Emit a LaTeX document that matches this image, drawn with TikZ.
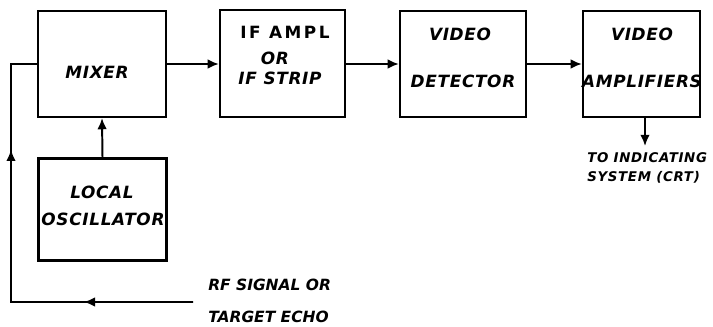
\documentclass[tikz,border=0pt]{standalone}
\usepackage{fontspec}
\setmainfont{DejaVu Sans}
\usepackage{tikz}
\usetikzlibrary{calc,arrows.meta}
\tikzset{block/.style={draw,line width=1.5pt,inner sep=0pt},
  block label/.style={inner sep=0pt,font=\bfseries\itshape\fontsize{12}{14}\selectfont\addfontfeature{LetterSpace=4}},
  upright label/.style={inner sep=0pt,font=\bfseries\fontsize{12}{14}\selectfont\addfontfeature{LetterSpace=15}},
  small label/.style={inner sep=0pt,align=left,font=\bfseries\itshape\fontsize{9.5}{13.5}\selectfont\addfontfeature{LetterSpace=5}},
  echo label/.style={inner sep=0pt,align=left,font=\bfseries\itshape\fontsize{11}{22.7}\selectfont},
  signal/.style={line width=1.4pt},flow/.style={-{Latex[length=2.8mm,width=2.4mm]}}}

\begin{document}
\begin{tikzpicture}[x=0.025cm,y=-0.025cm]
				\useasboundingbox (0,0) rectangle (713,327);
				% blocks
				\node[block,minimum width=3.2cm,minimum height=2.65cm] (mixer) at (102,64) {};
				\node[block,minimum width=3.125cm,minimum height=2.675cm] (ifamp) at (282.5,63.5) {};
				\node[block,minimum width=3.15cm,minimum height=2.65cm] (detector) at (463,64) {};
				\node[block,minimum width=2.925cm,minimum height=2.65cm] (vamp) at (641.5,64) {};
				\node[block,minimum width=3.2cm,minimum height=2.55cm] (lo) at (102.5,209.5) {};
				% block texts
				\node[block label] (mixer text) at (97,72) {MIXER};
				\node[upright label] (ifamp text) at (285,32) {IF AMPL};
				\node[block label] (or text) at (275,58) {OR};
				\node[block label] (strip text) at (280,78) {IF STRIP};
				\node[block label] (video text) at (460,34) {VIDEO};
				\node[block label] (detector text) at (463,81) {DETECTOR};
				\node[block label] (video2 text) at (642,34) {VIDEO};
				\node[block label] (vamp text) at (642,81) {AMPLIFIERS};
				\node[block label] (local text) at (102,192) {LOCAL};
				\node[block label] (osc text) at (103,219) {OSCILLATOR};
				% chain
				\draw[signal,flow] (mixer.east) -- (ifamp.west |- mixer.east);
				\draw[signal,flow] (ifamp.east |- mixer.east) -- (detector.west |- mixer.east);
				\draw[signal,flow] (detector.east) -- (vamp.west);
				\draw[signal,flow] (lo.north) -- (mixer.south);
				\coordinate (crt) at (645,146);
				\draw[signal,flow] (vamp.south -| crt) -- (crt);
				\node[small label,anchor=west] (crt text) at (587,168) {TO INDICATING\\SYSTEM (CRT)};
				% rf input
				\coordinate (rf in) at (193,302);
				\coordinate (corner) at (11,302);
				\coordinate (bend) at (corner |- mixer.west);
				\draw[signal] (rf in) -- (corner) -- (bend) -- (mixer.west);
				\draw[signal,flow] (rf in) -- ($(rf in)!0.6!(corner)$);
				\draw[signal,flow] (corner) -- ($(corner)!0.64!(bend)$);
				\node[echo label,anchor=west] (echo text) at (208,301) {RF SIGNAL OR\\TARGET ECHO};
			\end{tikzpicture}
\end{document}
